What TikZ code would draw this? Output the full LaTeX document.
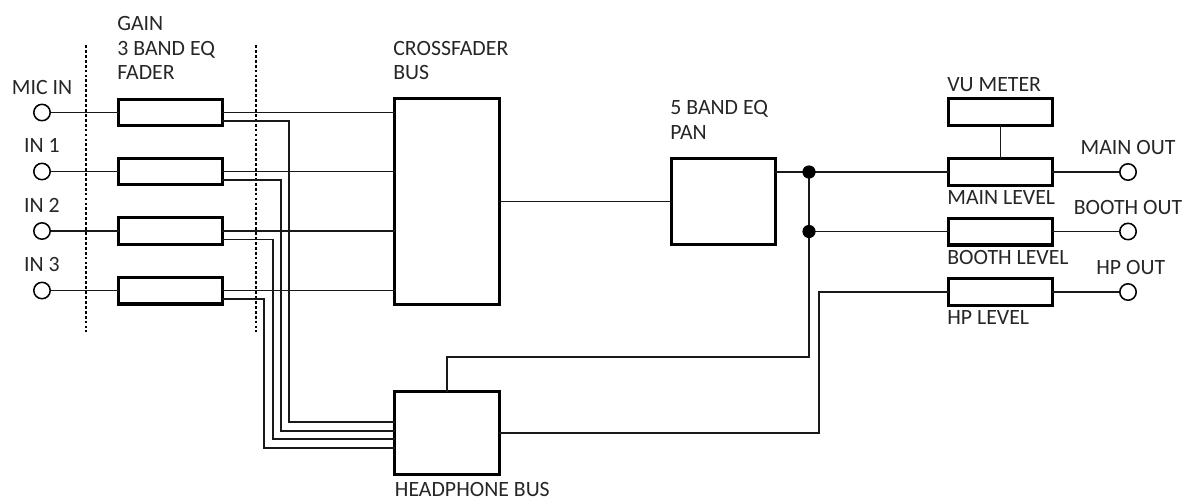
\documentclass[tikz,border=0pt]{standalone}
\usepackage{fontspec}
\setmainfont{Carlito}
\usepackage{tikz}
\usetikzlibrary{positioning}
\newcommand{\diafont}{\fontsize{15.5}{17.4}\selectfont}

\begin{document}
\begin{tikzpicture}[x=0.025cm,y=-0.025cm,
 wire/.style={line width=1.1pt,draw=black!90},
 block/.style={draw,line width=2.4pt,inner sep=0pt,outer sep=0pt},
 fader/.style={block,minimum width=2.59cm,minimum height=0.665cm},
 jack/.style={circle,draw,line width=1.1pt,minimum size=0.41cm,inner sep=0pt},
 txt/.style={font=\diafont,inner sep=0pt,text=black!85,align=left},
 dot/.style={circle,fill,minimum size=0.33cm,inner sep=0pt},
 sep/.style={line width=0.8pt,dash pattern=on 2pt off 1.5pt}]
 \useasboundingbox (0,0) rectangle (1187,502);

 % inputs and channel faders
 \node[jack] (in0) at (42,112.5) {};
 \node[jack] (in1) at (42,171.5) {};
 \node[jack] (in2) at (42,231) {};
 \node[jack] (in3) at (42,290.5) {};
 \node[txt,above=0.22cm of in0] (lin0) {MIC IN};
 \node[txt,above=0.24cm of in1] (lin1) {IN 1};
 \node[txt,above=0.24cm of in2] (lin2) {IN 2};
 \node[txt,above=0.24cm of in3] (lin3) {IN 3};

 \node[fader] (fad0) at (170.5,112.5) {};
 \node[fader] (fad1) at (170.5,171.5) {};
 \node[fader] (fad2) at (170.5,231) {};
 \node[fader] (fad3) at (170.5,290.5) {};
 \node[txt,above right=0.48cm and -0.04cm of fad0.north west] (lfad) {GAIN\\3 BAND EQ\\FADER};

 \draw[sep] (86,45) -- (86,332);
 \draw[sep] (256,45) -- (256,332);

 % busses
 \node[block,minimum width=2.615cm,minimum height=5.14cm] (xf) at (447,201.5) {};
 \node[txt,above right=0.46cm and -0.04cm of xf.north west] (lxf) {CROSSFADER\\BUS};
 \node[block,minimum width=2.615cm,minimum height=2.065cm] (hp) at (447,433) {};
 \node[txt,below right=0.2cm and 0cm of hp.south west] (lhp) {HEADPHONE BUS};

 \node[block,minimum width=2.59cm,minimum height=2.14cm] (eq) at (723.5,201.5) {};
 \node[txt,above right=0.48cm and -0.04cm of eq.north west] (leq) {5 BAND EQ\\PAN};

 % output section
 \node[fader] (vu) at (1000.5,112) {};
 \node[fader] (main) at (1000.5,172) {};
 \node[fader] (booth) at (1000.5,231.5) {};
 \node[fader] (hplev) at (1000.5,292) {};
 \node[txt,above right=0.18cm and -0.04cm of vu.north west] (lvu) {VU METER};
 \node[txt,below right=0.13cm and -0.04cm of main.south west] (lmain) {MAIN LEVEL};
 \node[txt,below right=0.14cm and -0.04cm of booth.south west] (lbooth) {BOOTH LEVEL};
 \node[txt,below right=0.13cm and -0.04cm of hplev.south west] (lhplev) {HP LEVEL};

 \node[jack] (out0) at (1128,172) {};
 \node[jack] (out1) at (1128,231.5) {};
 \node[jack] (out2) at (1128,292) {};
 \node[txt,above=0.2cm of out0] (lout0) {MAIN OUT};
 \node[txt,above=0.19cm of out1] (lout1) {BOOTH OUT};
 \node[txt,above=0.2cm of out2,xshift=0.07cm] (lout2) {HP OUT};

 % channel wiring
 \foreach \i/\xk/\yk in {0/289/422,1/281/431,2/273/439,3/264/448} {
   \draw[wire] (in\i) -- (in\i -| fad\i.west);
   \draw[wire] (fad\i.east) -- (fad\i.east -| xf.west);
   \draw[wire] ([yshift=-0.21cm]fad\i.east) -| (\xk,\yk) coordinate (k\i) -- (k\i -| hp.west);
 }

 % master wiring
 \coordinate (j1) at (809,172);
 \coordinate (j2) at (809,231.5);
 \coordinate (j3) at (809,357);
 \coordinate (r) at (819,0);
 \draw[wire] (xf.east) -- (eq.west);
 \draw[wire] (eq.east |- j1) -- (main.west);
 \draw[wire] (j2) -- (booth.west);
 \draw[wire] (j1) -- (j3) -| (hp.north);
 \draw[wire] (hp.east) -| (r |- hplev.west) -- (hplev.west);
 \node[dot] (d1) at (j1) {};
 \node[dot] (d2) at (j2) {};
 \draw[wire] (vu) -- (main);
 \draw[wire] (main.east) -- (out0);
 \draw[wire] (booth.east) -- (out1);
 \draw[wire] (hplev.east) -- (out2);
\end{tikzpicture}
\end{document}
